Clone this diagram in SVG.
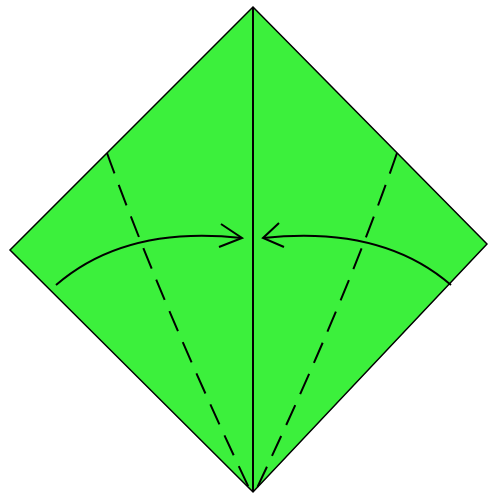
<svg xmlns="http://www.w3.org/2000/svg" width="488" height="499" viewBox="0 0 488 499">
<style>
.paper{fill:#3CF03C;stroke:#000;stroke-width:1.5;stroke-linejoin:miter}
.fold{fill:none;stroke:#000;stroke-width:2}
.valley{fill:none;stroke:#000;stroke-width:2;stroke-dasharray:22 12}
.arrow{fill:none;stroke:#000;stroke-width:2}
</style>
<rect width="488" height="499" fill="#fff"/>
<g id="paper">
<polygon class="paper" points="253,7 487,244 253,492 10,250"/>
</g>
<g id="folds">
<line class="fold" x1="253" y1="7" x2="253" y2="492"/>
<path class="valley" d="M107,153 Q160,300 250,490"/>
<path class="valley" d="M397,153 Q346,300 256,490"/>
</g>
<g id="connectors">
<path class="arrow" d="M56,285 Q125,225 242,238"/>
<path class="arrow" d="M221,224 L242,238 L219,247"/>
<path class="arrow" d="M451,285 Q382,225 263,238"/>
<path class="arrow" d="M279,223 L263,238 L284,247"/>
</g>
</svg>
